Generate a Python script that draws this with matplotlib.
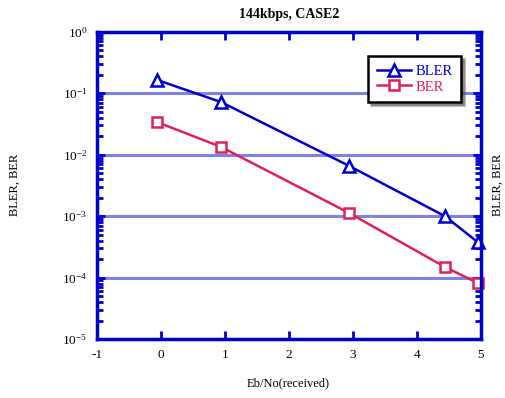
import numpy as np
import matplotlib
matplotlib.use("Agg")
import matplotlib.pyplot as plt
from matplotlib.ticker import LogLocator, NullFormatter, FixedLocator

plt.rcParams["font.family"] = ["Liberation Serif", "DejaVu Serif"]
plt.rcParams["mathtext.fontset"] = "custom"
plt.rcParams["mathtext.rm"] = "Liberation Serif"
plt.rcParams["mathtext.it"] = "Liberation Serif:italic"
plt.rcParams["mathtext.bf"] = "Liberation Serif:bold"

# values
ebno = [-0.06, 0.94, 2.94, 4.44, 4.95]
bler = [0.165, 0.072, 0.0066, 0.0010, 0.00038]
ber = [0.034, 0.0134, 0.00113, 0.000149, 0.000082]

x_ticks = [-1, 0, 1, 2, 3, 4, 5]
y_ticks = [1e-5, 1e-4, 1e-3, 1e-2, 1e-1, 1e0]
y_labels = [r"$10^{-5}$", r"$10^{-4}$", r"$10^{-3}$", r"$10^{-2}$", r"$10^{-1}$", r"$10^{0}$"]

blue = "#0000cc"
red = "#e0205a"
grid_c = "#8080e6"

fig = plt.figure(figsize=(5.05, 3.98), dpi=100)
ax = fig.add_axes([0.192, 0.148, 0.760, 0.772])

ax.set_yscale("log")
ax.set_xlim(-1, 5)
ax.set_ylim(1e-5, 1)

for y in y_ticks[1:-1]:
    ax.axhline(y, color=grid_c, lw=2.2, zorder=1)

ax.plot(ebno, bler, color=blue, lw=1.8, marker="^", ms=8, mfc="white",
        mec=blue, mew=1.8, label="BLER", zorder=3, clip_on=False)
ax.plot(ebno, ber, color=red, lw=1.8, marker="s", ms=7, mfc="white",
        mec=red, mew=1.8, label="BER", zorder=3, clip_on=False)

for s in ax.spines.values():
    s.set_color(blue)
    s.set_linewidth(2.5)
    s.set_zorder(4)

ax.xaxis.set_major_locator(FixedLocator(x_ticks))
ax.set_xticklabels([str(v) for v in x_ticks])
ax.yaxis.set_major_locator(FixedLocator(y_ticks))
ax.set_yticklabels(y_labels)
ax.yaxis.set_minor_locator(LogLocator(base=10, subs=np.arange(2, 10)))
ax.yaxis.set_minor_formatter(NullFormatter())

ax.tick_params(axis="both", which="major", direction="in", top=True, right=True,
               color=blue, width=2, length=6, labelsize=9.5, pad=7)
ax.tick_params(axis="y", which="minor", direction="in", right=True,
               color=blue, width=2, length=4)

ax.set_title("144kbps, CASE2", fontsize=10, fontweight="bold", pad=10)
fig.text(0.57, 0.038, "Eb/No(received)", fontsize=9, ha="center", va="center")
fig.text(0.03, 0.535, "BLER, BER", rotation=90, fontsize=9, ha="center", va="center")
fig.text(0.985, 0.535, "BLER, BER", rotation=90, fontsize=9, ha="center", va="center")

leg = ax.legend(loc="upper right", bbox_to_anchor=(0.96, 0.935), fontsize=10.5,
                frameon=True, fancybox=False, shadow=True, handlelength=2.3,
                borderpad=0.6, labelspacing=0.15, handletextpad=0.3,
                borderaxespad=0.3)
leg.get_frame().set_edgecolor("black")
leg.get_frame().set_linewidth(1.8)
for txt, c in zip(leg.get_texts(), [blue, red]):
    txt.set_color(c)
leg.set_zorder(5)

fig.savefig("out.png", dpi=100)
